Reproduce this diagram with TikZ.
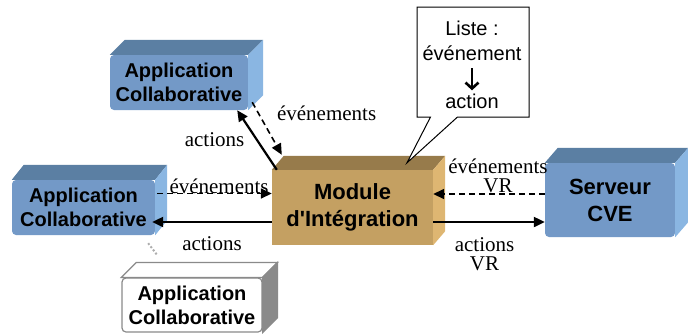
\documentclass[tikz,border=0pt]{standalone}
\usepackage{fontspec}
\setmainfont{Liberation Serif}
\setsansfont{Liberation Sans}
\usetikzlibrary{arrows.meta,calc,positioning,shapes.callouts}

\definecolor{bluefront}{HTML}{7399C7}
\definecolor{bluetop}{HTML}{5B7FA3}
\definecolor{blueside}{HTML}{8AB6E2}
\definecolor{modfront}{HTML}{C4A062}
\definecolor{modtop}{HTML}{977B4B}
\definecolor{modside}{HTML}{DEB672}
\definecolor{boxgray}{HTML}{8A8A8A}

% top and side faces of a box: node, depth x, depth y, top style, side style
\newcommand{\boxfaces}[5]{
  \path[#4] (#1.north west) -- ++(#2,-#3) -- ($(#1.north east)+(#2,-#3)$) -- (#1.north east) -- cycle;
  \path[#5] (#1.north east) -- ++(#2,-#3) -- ($(#1.south east)+(#2,-#3)$) -- (#1.south east) -- cycle;
}

\begin{document}
\begin{tikzpicture}[x=1pt, y=-1pt,
    appbox/.style={rectangle, rounded corners=4pt, fill=bluefront, align=center, inner sep=0pt,
      font=\sffamily\bfseries\fontsize{20}{24}\selectfont},
    bigbox/.style={appbox, font=\sffamily\bfseries\fontsize{22}{27}\selectfont},
    arr/.style={line width=2.2pt, -{Triangle[length=11pt,width=10pt]}},
    evt/.style={arr, line width=1.6pt, dash pattern=on 6pt off 4pt},
    lbl/.style={inner sep=0pt, align=center, font=\fontsize{21}{19}\selectfont},
    notetext/.style={inner sep=3pt, font=\sffamily\fontsize{20}{25}\selectfont}]

    \useasboundingbox (0,0) rectangle (688,333);

    % boxes
    \node[appbox, minimum width=138pt, minimum height=55pt] (app1) at (179,82.5) {Application\\Collaborative};
    \boxfaces{app1}{15}{15}{fill=bluetop}{fill=blueside}

    \node[appbox, minimum width=143pt, minimum height=55pt] (app2) at (83.5,207.5) {Application\\Collaborative};
    \boxfaces{app2}{12}{15}{fill=bluetop}{fill=blueside}

    \node[appbox, fill=white, draw=boxgray, line width=1.2pt, minimum width=140pt, minimum height=54pt] (app3) at (192,305) {Application\\Collaborative};
    \boxfaces{app3}{15}{15}{fill=white, draw=boxgray, line width=1.2pt}{fill=boxgray, draw=boxgray, line width=1.2pt}

    \node[bigbox, fill=modfront, rounded corners=0pt, minimum width=161pt, minimum height=75pt] (mod) at (352.5,207.5) {Module\\d\textquotesingle Intégration};
    \boxfaces{mod}{12}{14}{fill=modtop}{fill=modside}

    \node[bigbox, minimum width=130pt, minimum height=74pt] (srv) at (610,200) {Serveur\\CVE};
    \boxfaces{srv}{13}{15}{fill=bluetop}{fill=blueside}

    % more applications
    \draw[boxgray!70, line width=2pt, dotted] ([xshift=-7pt, yshift=-8pt]app2.south east) -- ([xshift=36pt, yshift=22pt]app3.north west);

    % note
    \node[rectangle callout, draw, line width=1pt, fill=white, minimum width=112pt, minimum height=110pt,
      callout pointer width=27pt, callout absolute pointer={($(mod.north)+(54.5,-7)$)}] (note) at (473,62) {};
    \node[notetext, anchor=base] (lst) at (472,35) {Liste :};
    \node[notetext, anchor=base] (evn) at (472,60) {événement};
    \node[notetext, anchor=base] (act) at (472,108) {action};
    \draw[line width=2.6pt, -{Straight Barb[length=6pt,width=13pt]}, shorten <=5pt] (evn.south) -- (act.north);

    % top application
    \draw[arr] ([xshift=5pt]mod.north west) -- ([xshift=-11pt]app1.south east)
      node[lbl, pos=0.39, anchor=base east, xshift=-16pt] (lact1) {actions};
    \draw[evt] ([xshift=4pt, yshift=8pt]app1.south east) -- ([xshift=10pt, yshift=15pt]mod.north west)
      node[lbl, pos=0.34, anchor=base west, xshift=14pt] (levt1) {événements};

    % left application
    \draw[evt] ([xshift=2pt, yshift=14pt]app2.east) -- ([yshift=14pt]mod.west)
      node[lbl, pos=0.54, anchor=base] (levt2) {événements};
    \draw[arr] ([yshift=-14.5pt]mod.west) -- ([xshift=-3pt, yshift=-14.5pt]app2.east)
      node[lbl, midway, anchor=base, yshift=-28pt] (lact2) {actions};

    % server
    \draw[evt] ([yshift=13.5pt]mod.east -| srv.west) -- ([yshift=13.5pt]mod.east)
      node[lbl, pos=0.42, anchor=south] (levt3) {événements\\VR};
    \draw[arr] ([yshift=-14.5pt]mod.east) -- ([yshift=-14.5pt]mod.east -| srv.west)
      node[lbl, pos=0.46, anchor=north, yshift=-14pt] (lact3) {actions\\VR};
\end{tikzpicture}
\end{document}
